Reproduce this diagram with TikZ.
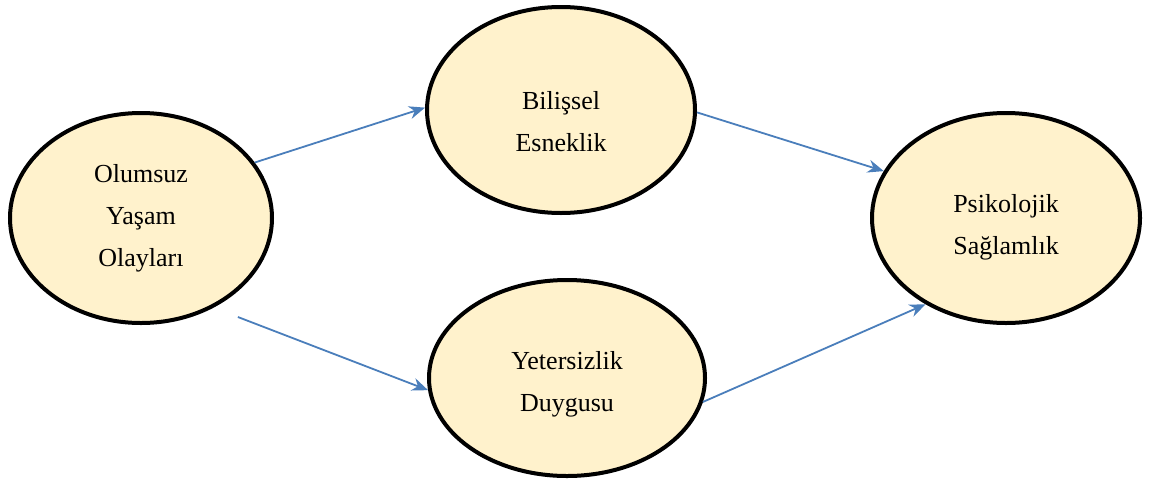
\documentclass[tikz,border=0pt]{standalone}
\usepackage{fontspec}
\setmainfont{Liberation Serif}
\usetikzlibrary{arrows.meta,shapes.geometric}
\definecolor{ovalfill}{HTML}{FFF2CC}
\definecolor{arrowblue}{HTML}{4A7EBB}
\tikzset{
    oval/.style = {draw, ellipse, line width=2pt, fill=ovalfill,
        inner sep=0pt, align=center,
        font=\fontsize{13}{21}\selectfont},
    arrow/.style = {draw=arrowblue, line width=0.9pt, -{Stealth[length=8pt,width=6.5pt]}}
}
% strut to push the first line down a little
\newcommand{\firstdown}[1]{\rule{0pt}{#1}}

\begin{document}
\begin{tikzpicture}[x=0.5pt, y=-0.5pt]
    \useasboundingbox (0,0) rectangle (1154,482);
    \node [oval, minimum width=131pt, minimum height=105pt] (olumsuz) at (141,218) {Olumsuz\\Yaşam\\Olayları};
    \node [oval, minimum width=134pt, minimum height=103pt] (bilissel) at (561,110) {\firstdown{21pt}Bilişsel\\Esneklik};
    \node [oval, minimum width=138pt, minimum height=98pt] (yetersizlik) at (567,378) {\firstdown{15pt}Yetersizlik\\Duygusu};
    \node [oval, minimum width=134pt, minimum height=105pt] (psikolojik) at (1006,218) {\firstdown{18pt}Psikolojik\\Sağlamlık};
    \draw [arrow] (olumsuz.26) -- (bilissel.179);
    \draw [arrow, shorten <=13pt] (olumsuz.-51) -- (yetersizlik.185);
    \draw [arrow] (bilissel.-1) -- (psikolojik.159);
    \draw [arrow] (yetersizlik.-10) -- (psikolojik.227);
\end{tikzpicture}
\end{document}
